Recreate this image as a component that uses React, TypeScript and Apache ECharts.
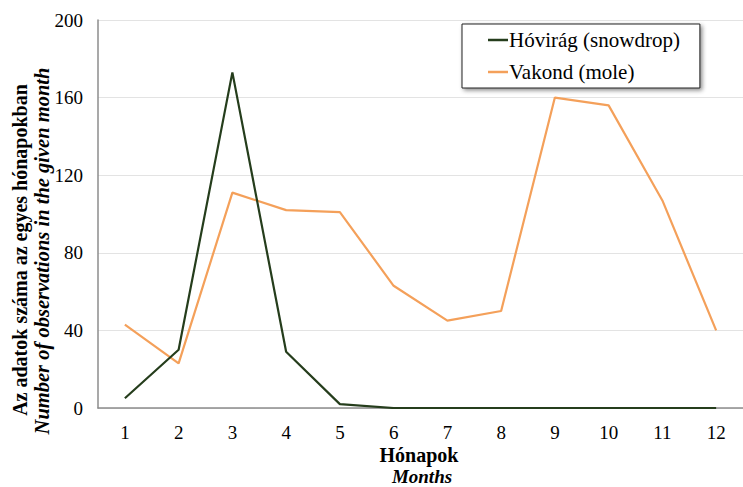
import React, { useEffect, useRef } from "react";
import * as echarts from "echarts";

const months = ["1", "2", "3", "4", "5", "6", "7", "8", "9", "10", "11", "12"];
const snowdrop = [5, 30, 173, 29, 2, 0, 0, 0, 0, 0, 0, 0];
const mole = [43, 23, 111, 102, 101, 63, 45, 50, 160, 156, 107, 40];
const seriesNames = ["Hóvirág (snowdrop)", "Vakond (mole)"];
const yTitle1 = "Az adatok száma az egyes hónapokban";
const yTitle2 = "Number of observations in the given month";
const xTitle1 = "Hónapok";
const xTitle2 = "Months";

const FONT = "Liberation Serif";

export default function App() {
  const ref = useRef<HTMLDivElement>(null);
  useEffect(() => {
    if (!ref.current) return;
    const chart = echarts.init(ref.current, null, { renderer: "svg" });
    const titleStyle = (text: string, italic: boolean, size: number) => ({
      text,
      fontFamily: FONT,
      fontSize: size,
      fontWeight: "bold",
      fontStyle: italic ? "italic" : "normal",
      fill: "#000",
      textAlign: "center",
      textVerticalAlign: "middle",
    });
    chart.setOption({
      animation: false,
      backgroundColor: "#ffffff",
      textStyle: { fontFamily: FONT },
      grid: { left: 98, right: -7, top: 20, bottom: 79, containLabel: false },
      legend: {
        orient: "vertical",
        left: 462,
        top: 24,
        padding: [5, 20, 5, 26],
        itemGap: 10,
        itemWidth: 20,
        itemHeight: 2.5,
        backgroundColor: "#ffffff",
        borderColor: "#222",
        borderWidth: 1,
        shadowBlur: 4,
        shadowColor: "rgba(0,0,0,0.45)",
        shadowOffsetX: 2,
        shadowOffsetY: 2,
        icon: "rect",
        textStyle: { fontFamily: FONT, fontSize: 21, color: "#000", padding: [0, 0, 0, -4], lineHeight: 22 },
        data: seriesNames,
      },
      xAxis: {
        type: "category",
        data: months,
        boundaryGap: true,
        axisLine: { lineStyle: { color: "#8c8c8c", width: 1.5 } },
        axisTick: { show: false },
        axisLabel: { color: "#000", fontSize: 19, fontFamily: FONT, margin: 15 },
      },
      yAxis: {
        type: "value",
        min: 0,
        max: 200,
        interval: 40,
        axisLine: { show: true, lineStyle: { color: "#8c8c8c", width: 1.5 } },
        axisTick: { show: false },
        splitLine: { lineStyle: { color: "#e3e3e3", width: 1 } },
        axisLabel: { color: "#000", fontSize: 19, fontFamily: FONT, margin: 15 },
      },
      series: [
        {
          name: seriesNames[0],
          type: "line",
          data: snowdrop,
          symbol: "none",
          lineStyle: { color: "#253d1c", width: 2.2 },
          itemStyle: { color: "#253d1c" },
          z: 3,
        },
        {
          name: seriesNames[1],
          type: "line",
          data: mole,
          symbol: "none",
          lineStyle: { color: "#f4a05a", width: 2.2 },
          itemStyle: { color: "#f4a05a" },
          z: 2,
        },
      ],
      graphic: [
        { type: "text", x: 20, y: 250, rotation: Math.PI / 2, style: titleStyle(yTitle1, false, 20) },
        { type: "text", x: 42, y: 251, rotation: Math.PI / 2, style: titleStyle(yTitle2, true, 20.5) },
        { type: "text", x: 419, y: 455, style: titleStyle(xTitle1, false, 20) },
        { type: "text", x: 422, y: 476, style: titleStyle(xTitle2, true, 19) },
      ],
    });
    return () => chart.dispose();
  }, []);
  return <div ref={ref} style={{ width: 743, height: 487, position: "absolute", left: 0, top: 0 }} />;
}
